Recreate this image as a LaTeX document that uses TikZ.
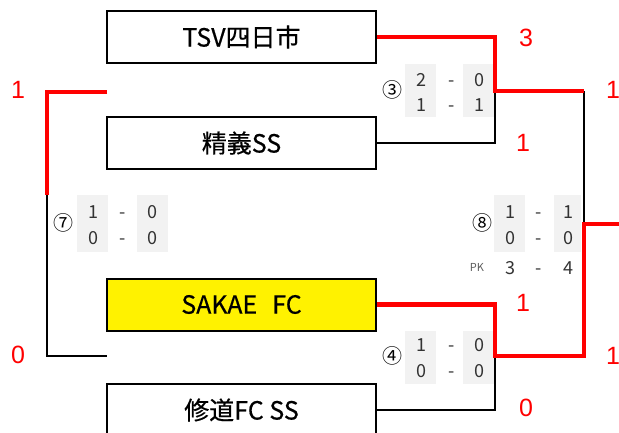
\documentclass[tikz,border=0pt]{standalone}
\usepackage{fontspec}
\setmainfont{Noto Sans CJK JP}
\newfontfamily\teamfont[BoldFont=*,BoldFeatures={FakeBold=0.5}]{Noto Sans CJK JP}
\newfontfamily\latinfont{Liberation Sans}
\definecolor{cellgray}{HTML}{F2F2F2}
\definecolor{digit}{HTML}{333333}
\definecolor{winred}{HTML}{FF0000}
\begin{document}
\begin{tikzpicture}[x=1pt,y=-1pt,
  team/.style={draw=black,line width=2pt,minimum width=269pt,minimum height=52pt,inner sep=0pt,font=\teamfont\bfseries\fontsize{25}{28}\selectfont},
  lose/.style={draw=black,line width=1.6pt,line join=miter},
  win/.style={draw=winred,line width=4.5pt,line join=miter},
  cell/.style={fill=cellgray,draw=none,minimum width=31pt,minimum height=53pt,inner sep=0pt},
  sc/.style={text=digit,font=\fontsize{18}{19}\selectfont,inner sep=0pt,anchor=base},
  circ/.style={text=black,font=\fontsize{20}{21}\selectfont,inner sep=0pt},
  pts/.style={text=winred,font=\latinfont\fontsize{25}{27}\selectfont,inner sep=0pt},
  pk/.style={text=digit!80,font=\fontsize{11}{12}\selectfont,inner sep=0pt,anchor=base}]
\useasboundingbox (0,0) rectangle (619,432);

% team boxes
\node[team] (tsv) at (241.5,37) {TSV四日市};
\node[team] (sei) at (241.5,143) {精義SS};
\node[team,fill=yellow] (sak) at (241.5,304.5) {SAKAE\hspace{0.6em}FC};
\node[team] (shu) at (241.5,410) {修道FC SS};

% coordinates
\coordinate (m3) at (495,91);
\coordinate (m3r) at (584,91);
\coordinate (m8split) at (584,222);
\coordinate (m4) at (495,356);
\coordinate (m4r) at (584,356);
\coordinate (m8top) at (584,224);
\coordinate (fin) at (625,224);
\coordinate (l7top) at (107,92);
\coordinate (l7tl) at (47,92);
\coordinate (l7split) at (47,195);
\coordinate (l7bl) at (47,356);
\coordinate (l7bot) at (107,356);

% score cells
\node[cell] (c3a) at (420.5,90.5) {};
\node[cell] (c3b) at (478.5,90.5) {};
\node[cell] (c4a) at (420.5,357.5) {};
\node[cell] (c4b) at (478.5,357.5) {};
\node[cell,minimum height=57pt] (c7a) at (92.5,223.5) {};
\node[cell,minimum height=57pt] (c7b) at (152.5,223.5) {};
\node[cell,minimum height=57pt] (c8a) at (509.5,223.5) {};
\node[cell,minimum height=57pt,minimum width=27pt] (c8b) at (567.5,223.5) {};

% losing (black) lines
\draw[lose] (sei.east) -- (sei.east -| m3) -- (m3);
\draw[lose] (shu.east) -- (shu.east -| m4) -- (m4);
\draw[lose] (m3r) -- (m8split);
\draw[lose] (l7split) -- (l7bl) -- (l7bot);

% winning (red) lines
\draw[win] (tsv.east) -- (tsv.east -| m3) -- (m3) -- (m3r);
\draw[win] (sak.east) -- (sak.east -| m4) -- (m4) -- (m4r) -- (m8top) -- (fin);
\draw[win] (l7top) -- (l7tl) -- (l7split);

% match 3 scores
\node[circ] (n3) at (392,90) {③};
\node[sc] (s3a1) at (421,86) {2};
\node[sc] (s3d1) at (452,86) {-};
\node[sc] (s3b1) at (479,86) {0};
\node[sc] (s3a2) at (421,111) {1};
\node[sc] (s3d2) at (452,111) {-};
\node[sc] (s3b2) at (479,111) {1};

% match 4 scores
\node[circ] (n4) at (392,356) {④};
\node[sc] (s4a1) at (421,351) {1};
\node[sc] (s4d1) at (452,351) {-};
\node[sc] (s4b1) at (479,351) {0};
\node[sc] (s4a2) at (421,377) {0};
\node[sc] (s4d2) at (452,377) {-};
\node[sc] (s4b2) at (479,377) {0};

% match 7 scores
\node[circ] (n7) at (63,223) {⑦};
\node[sc] (s7a1) at (93,218) {1};
\node[sc] (s7d1) at (123,218) {-};
\node[sc] (s7b1) at (152,218) {0};
\node[sc] (s7a2) at (93,244) {0};
\node[sc] (s7d2) at (123,244) {-};
\node[sc] (s7b2) at (152,244) {0};

% match 8 scores
\node[circ] (n8) at (482,223) {⑧};
\node[sc] (s8a1) at (510,218) {1};
\node[sc] (s8d1) at (539,218) {-};
\node[sc] (s8b1) at (568,218) {1};
\node[sc] (s8a2) at (510,244) {0};
\node[sc] (s8d2) at (539,244) {-};
\node[sc] (s8b2) at (568,244) {0};
\node[pk] (pk) at (477,271) {PK};
\node[sc] (s8a3) at (510,274) {3};
\node[sc] (s8d3) at (539,274) {-};
\node[sc] (s8b3) at (568,274) {4};

% red total scores
\node[pts] (p1) at (526,38) {3};
\node[pts] (p2) at (523,143) {1};
\node[pts] (p3) at (613,90) {1};
\node[pts] (p4) at (18,90) {1};
\node[pts] (p5) at (18,355) {0};
\node[pts] (p6) at (523,303) {1};
\node[pts] (p7) at (526,408) {0};
\node[pts] (p8) at (613,356) {1};
\end{tikzpicture}
\end{document}
